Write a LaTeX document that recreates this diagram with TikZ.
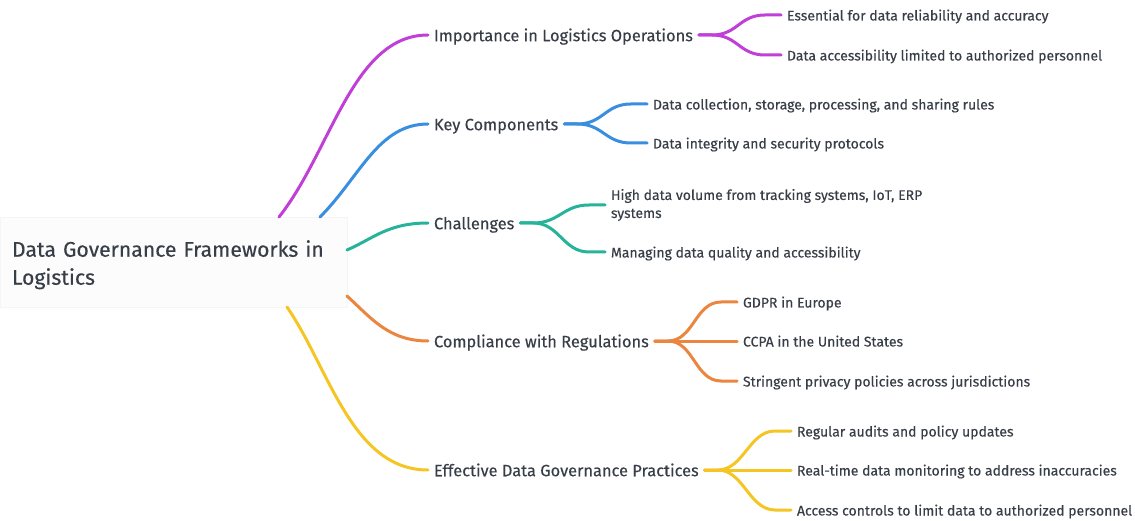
\documentclass[tikz,border=0pt]{standalone}
\usepackage{fontspec}
\setmainfont{Fira Sans}[FakeBold=0.3]
\usetikzlibrary{calc}
\definecolor{txt}{HTML}{383E47}
\definecolor{cmag}{HTML}{C03FD6}
\definecolor{cblue}{HTML}{3A8EE0}
\definecolor{cteal}{HTML}{26B399}
\definecolor{corange}{HTML}{EA8640}
\definecolor{cyellow}{HTML}{F5C623}
\definecolor{rootfill}{HTML}{FCFCFC}
\definecolor{rootline}{HTML}{F5F5F5}
\tikzset{
  rootbox/.style={draw=rootline, fill=rootfill, line width=0.6pt, minimum width=347pt, minimum height=90pt,
    inner xsep=12pt, inner ysep=0pt, outer sep=0pt, text width=323pt, align=left, text=txt,
    font=\fontsize{21.2}{28}\selectfont},
  lvone/.style={anchor=west, inner sep=0pt, outer xsep=6pt, outer ysep=0pt, text=txt,
    font=\fontsize{16.4}{20}\selectfont, text height=12.5pt, text depth=0pt},
  leaf/.style={anchor=west, inner sep=0pt, outer xsep=6pt, outer ysep=0pt, text=txt,
    font=\fontsize{14}{18}\selectfont, text height=11pt, text depth=0pt},
  conn/.style={line width=3pt, line cap=round, line join=round},
}
\begin{document}
\begin{tikzpicture}[x=1pt, y=-1pt]
\useasboundingbox (0,0) rectangle (1135,521);
% root
\node[rootbox] (root) at (173.5,262) {\rule{0pt}{22pt}Data Governance Frameworks in\\Logistics};
% level one
\node[lvone] (imp) at (428,35) {Importance in Logistics Operations};
\node[lvone] (key) at (428,124) {Key Components};
\node[lvone] (cha) at (428,223) {Challenges};
\node[lvone] (com) at (428,341) {Compliance with Regulations};
\node[lvone] (eff) at (428,470) {Effective Data Governance Practices};
% leaves
\node[leaf] (imp1) at (781,15) {Essential for data reliability and accuracy};
\node[leaf] (imp2) at (781,55) {Data accessibility limited to authorized personnel};
\node[leaf] (key1) at (647,104) {Data collection, storage, processing, and sharing rules};
\node[leaf] (key2) at (647,143) {Data integrity and security protocols};
\node[leaf, align=left, text height=, text depth=] (cha1) at (605,205) {High data volume from tracking systems, IoT, ERP\\systems};
\node[leaf] (cha2) at (605,252) {Managing data quality and accessibility};
\node[leaf] (com1) at (737,302) {GDPR in Europe};
\node[leaf] (com2) at (737,341) {CCPA in the United States};
\node[leaf] (com3) at (737,381) {Stringent privacy policies across jurisdictions};
\node[leaf] (eff1) at (791,431) {Regular audits and policy updates};
\node[leaf] (eff2) at (791,470) {Real-time data monitoring to address inaccuracies};
\node[leaf] (eff3) at (791,510) {Access controls to limit data to authorized personnel};
% root to level one
\draw[conn, cmag] ($(root.north west)+(279,0)$) .. controls (331.4,151) and (352.6,35) .. (imp.west);
\draw[conn, cblue] ($(root.north west)+(320,0)$) .. controls (360,177) and (378,124) .. (key.west);
\draw[conn, cteal] ($(root.north east)+(0,33)$) .. controls (373.5,238.5) and (387.9,223) .. (cha.west);
\draw[conn, corange] ($(root.south east)+(0,-11)$) .. controls (370.7,317.5) and (388.3,341) .. (com.west);
\draw[conn, cyellow] ($(root.south west)+(287,0)$) .. controls (329.1,368.1) and (351.7,470) .. (eff.west);
% level one to leaves
\foreach \p/\l/\c in {imp/imp1/cmag, imp/imp2/cmag, key/key1/cblue, key/key2/cblue,
    cha/cha1/cteal, cha/cha2/cteal, com/com1/corange, com/com3/corange,
    eff/eff1/cyellow, eff/eff3/cyellow}{
  \draw[conn, \c] (\p.east) -- ++(13,0) .. controls +(26,0) and +(-26,0) .. ($(\l.west)+(-16,0)$) -- (\l.west);
}
\draw[conn, corange] (com.east) -- (com2.west);
\draw[conn, cyellow] (eff.east) -- (eff2.west);
\end{tikzpicture}
\end{document}
